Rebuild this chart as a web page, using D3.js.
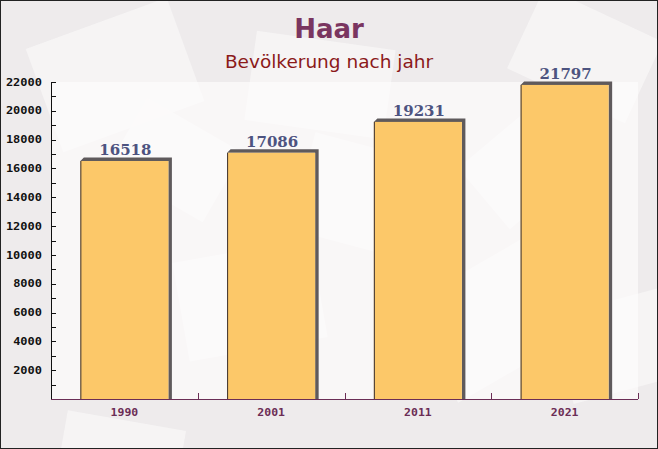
<!DOCTYPE html>
<html><head><meta charset="utf-8">
<script src="https://cdn.jsdelivr.net/npm/d3@7"></script>
<style>html,body{margin:0;padding:0;background:#fff}svg{display:block}</style>
</head><body>
<script>
const title = "Haar";
const subtitle = "Bevölkerung nach jahr";
const years = ["1990", "2001", "2011", "2021"];
const population = [16518, 17086, 19231, 21797];
const yTicks = [2000, 4000, 6000, 8000, 10000, 12000, 14000, 16000, 18000, 20000, 22000];

const W = 658, H = 449;
const m = {left: 51, right: 20, top: 82, bottom: 50};
const svg = d3.select("body").append("svg").attr("width", W).attr("height", H);

// background
svg.append("rect").attr("width", W).attr("height", H).attr("fill", "#eeebec");
const deco = svg.append("g");
[[40,20,150,110,-20],[300,150,150,100,15],[520,10,130,90,25],[180,250,140,100,-10],
 [420,260,160,110,-30],[60,420,120,80,10],[560,300,120,90,-15],[250,40,140,90,8],
 [470,120,120,80,-40],[120,120,110,80,30]].forEach(d => {
  deco.append("rect").attr("x", d[0]).attr("y", d[1]).attr("width", d[2]).attr("height", d[3])
    .attr("transform", `rotate(${d[4]},${d[0]+d[2]/2},${d[1]+d[3]/2})`)
    .attr("fill", "#f8f6f6").attr("opacity", 0.8);
});

const x = d3.scaleBand().domain(years).range([m.left, W - m.right]).padding(0);
const y = d3.scaleLinear().domain([0, 22000]).range([H - m.bottom, m.top]);

// plot area
svg.append("rect").attr("x", m.left).attr("y", y(22000)).attr("width", x.range()[1] - m.left)
  .attr("height", y(0) - y(22000)).attr("fill", "#fdfcfc").attr("opacity", 0.7);

const bw = x.bandwidth() * 0.6;
const off = 3.5;
const g = svg.append("g");
years.forEach((yr, i) => {
  const x0 = x(yr) + (x.bandwidth() - bw) / 2;
  const yt = y(population[i]), yb = y(0);
  g.append("path")
    .attr("d", `M${x0},${yt} L${x0+off},${yt-off} L${x0+bw+off},${yt-off} L${x0+bw+off},${yb} L${x0+bw},${yb} L${x0+bw},${yt} Z`)
    .attr("fill", "#5f5a5c");
  g.append("rect").attr("x", x0).attr("y", yt).attr("width", bw).attr("height", yb - yt)
    .attr("fill", "#fcc45e").attr("opacity", 0.93);
  g.append("line").attr("x1", x0 + 0.5).attr("x2", x0 + 0.5).attr("y1", yt).attr("y2", yb)
    .attr("stroke", "#3a3030").attr("stroke-width", 1);
  g.append("text").attr("x", x0 + bw / 2 + 1).attr("y", yt - off - 2.5)
    .attr("text-anchor", "middle").attr("font-family", "DejaVu Serif").attr("font-weight", "bold")
    .attr("font-size", 15).attr("fill", "#4d5380").text(population[i]);
});

// y axis
const ya = svg.append("g");
ya.append("line").attr("x1", m.left + 0.5).attr("x2", m.left + 0.5).attr("y1", y(22000)).attr("y2", y(0))
  .attr("stroke", "#111");
d3.range(1000, 22001, 1000).forEach(v => {
  ya.append("line").attr("x1", m.left).attr("x2", m.left + 5).attr("y1", Math.round(y(v)) + 0.5)
    .attr("y2", Math.round(y(v)) + 0.5).attr("stroke", "#111");
});
yTicks.forEach(v => {
  ya.append("text").attr("transform", `translate(42,${y(v)}) scale(1,0.85)`).attr("dy", "0.36em")
    .attr("text-anchor", "end")
    .attr("font-family", "DejaVu Sans Mono").attr("font-weight", "bold").attr("font-size", 12)
    .attr("fill", "#111").text(v);
});

// x axis
const xa = svg.append("g");
xa.append("line").attr("x1", m.left).attr("x2", x.range()[1]).attr("y1", y(0) + 0.5).attr("y2", y(0) + 0.5)
  .attr("stroke", "#6b2d55");
years.forEach((yr, i) => {
  const xe = Math.round(x(yr) + x.bandwidth()) + 0.5;
  xa.append("line").attr("x1", xe).attr("x2", xe).attr("y1", y(0)).attr("y2", y(0) - 6).attr("stroke", "#6b2d55");
  xa.append("text").attr("transform", `translate(${x(yr) + x.bandwidth() / 2},${y(0) + 13}) scale(1,0.85)`)
    .attr("dy", "0.36em")
    .attr("text-anchor", "middle").attr("font-family", "DejaVu Sans Mono").attr("font-weight", "bold")
    .attr("font-size", 11.5).attr("fill", "#6b2d55").text(yr);
});

// titles
svg.append("text").attr("x", W / 2).attr("y", 38).attr("text-anchor", "middle")
  .attr("font-family", "DejaVu Sans").attr("font-weight", "bold").attr("font-size", 26)
  .attr("fill", "#7a3560").text(title);
svg.append("text").attr("x", W / 2).attr("y", 68).attr("text-anchor", "middle")
  .attr("font-family", "DejaVu Sans").attr("font-size", 18.5)
  .attr("fill", "#8b1a1a").text(subtitle);

// border
svg.append("rect").attr("x", 0.5).attr("y", 0.5).attr("width", W - 1).attr("height", H - 1)
  .attr("fill", "none").attr("stroke", "#222");
</script>
</body></html>
